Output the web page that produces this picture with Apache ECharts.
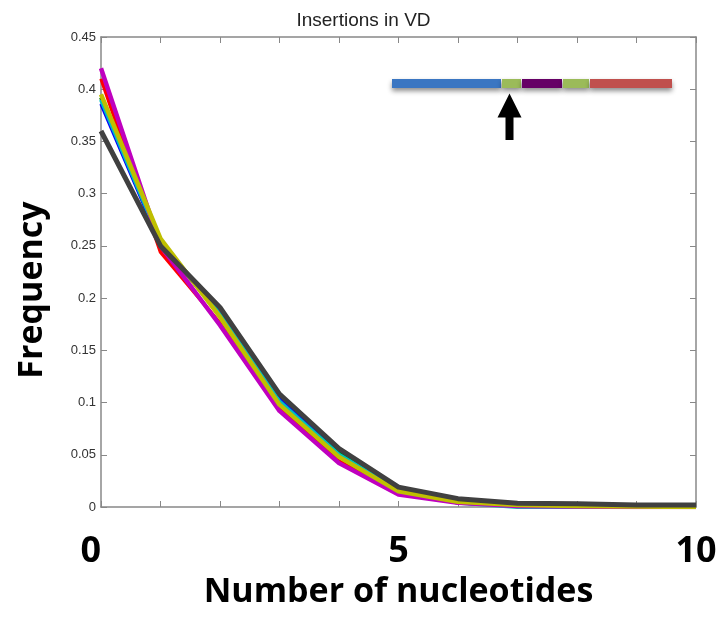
<!DOCTYPE html>
<html>
<head>
<meta charset="utf-8">
<script src="https://cdn.jsdelivr.net/npm/echarts@6/dist/echarts.min.js"></script>
<style>html,body{margin:0;padding:0;background:#fff}#c{width:727px;height:617px}</style>
</head>
<body>
<div id="c"></div>
<script>
var nucleotides = [0,1,2,3,4,5,6,7,8,9,10];
var xTickLabels = [0,5,10];
var redVals     = [0.410,0.244,0.176,0.094,0.044,0.013,0.004,0.001,0.0005,0,0];
var blueVals    = [0.386,0.252,0.185,0.103,0.052,0.017,0.004,0.001,0,0,0];
var greenVals   = [0.392,0.255,0.184,0.100,0.051,0.016,0.006,0.002,0.001,0.0005,0];
var cyanVals    = [0.390,0.254,0.186,0.101,0.050,0.016,0.004,0,0,0,0];
var magentaVals = [0.420,0.250,0.174,0.092,0.042,0.012,0.004,0.001,0.0005,0,0];
var yellowVals  = [0.395,0.257,0.182,0.098,0.048,0.015,0.005,0.002,0.001,0.0005,0];
var grayVals    = [0.360,0.250,0.191,0.108,0.056,0.019,0.008,0.0035,0.003,0.002,0.002];

var seriesDefs = [
  {name:'red', vals:redVals, color:'#ff0000', w:3.5},
  {name:'blue', vals:blueVals, color:'#0000ff', w:3.5},
  {name:'green', vals:greenVals, color:'#008000', w:4},
  {name:'cyan', vals:cyanVals, color:'#00bfbf', w:4},
  {name:'magenta', vals:magentaVals, color:'#bf00bf', w:4.5},
  {name:'yellow', vals:yellowVals, color:'#bfbf00', w:4.5},
  {name:'gray', vals:grayVals, color:'#404040', w:5}
];

var chart = echarts.init(document.getElementById('c'), null, {renderer:'canvas'});
var axisGray = '#888888';
var bigFont = 'Open Sans';

var series = seriesDefs.map(function(s){
  return {
    type:'line', name:s.name, xAxisIndex:0, yAxisIndex:0,
    data: nucleotides.map(function(x,i){return [x, s.vals[i]];}),
    symbol:'none', lineStyle:{color:s.color, width:s.w, join:'round'},
    itemStyle:{color:s.color}, z:2
  };
});

var option = {
  animation:false,
  backgroundColor:'#ffffff',
  title:{
    text:'Insertions in VD', left:'center', top:6,
    textStyle:{fontFamily:'Liberation Sans', fontSize:19, fontWeight:'normal', color:'#222'}
  },
  grid:{left:101, right:31, top:37, bottom:110, containLabel:false},
  xAxis:[
    {type:'value', min:0, max:10, interval:1, position:'bottom',
     name:'Number of nucleotides', nameLocation:'middle', nameGap:53,
     nameTextStyle:{fontFamily:bigFont, fontWeight:'bold', fontSize:34, color:'#000'},
     axisLine:{show:true, onZero:false, lineStyle:{color:axisGray, width:1.5}},
     axisTick:{show:true, inside:true, length:6, lineStyle:{color:axisGray}},
     splitLine:{show:false},
     axisLabel:{show:true, margin:27, fontFamily:bigFont, fontWeight:'bold', fontSize:36, color:'#000',
       alignMinLabel:'right',
       formatter:function(v){return xTickLabels.indexOf(v) >= 0 ? String(v) : '';}}},
    {type:'value', min:0, max:10, interval:1, position:'top',
     axisLine:{show:true, onZero:false, lineStyle:{color:axisGray, width:1.5}},
     axisTick:{show:true, inside:true, length:6, lineStyle:{color:axisGray}},
     splitLine:{show:false}, axisLabel:{show:false}}
  ],
  yAxis:[
    {type:'value', min:0, max:0.45, interval:0.05, position:'left',
     name:'Frequency', nameLocation:'middle', nameGap:52,
     nameTextStyle:{fontFamily:bigFont, fontWeight:'bold', fontSize:34, color:'#000', padding:[0,0,0,-36]},
     axisLine:{show:true, onZero:false, lineStyle:{color:axisGray, width:1.5}},
     axisTick:{show:true, inside:true, length:6, lineStyle:{color:axisGray}},
     splitLine:{show:false},
     axisLabel:{show:true, margin:5, fontFamily:'Liberation Sans', fontSize:13, color:'#333'}},
    {type:'value', min:0, max:0.45, interval:0.05, position:'right',
     axisLine:{show:true, onZero:false, lineStyle:{color:axisGray, width:1.5}},
     axisTick:{show:true, inside:true, length:6, lineStyle:{color:axisGray}},
     splitLine:{show:false}, axisLabel:{show:false}}
  ],
  series: series,
  graphic:[
    {type:'group', z:10, children:[
      {type:'rect', shape:{x:392, y:79, width:109, height:9}, style:{fill:'#3a76c2', shadowBlur:5, shadowOffsetY:3, shadowColor:'rgba(0,0,0,0.45)'}},
      {type:'rect', shape:{x:502, y:79, width:19, height:9}, style:{fill:'#9bbb59', shadowBlur:5, shadowOffsetY:3, shadowColor:'rgba(0,0,0,0.45)'}},
      {type:'rect', shape:{x:522, y:79, width:40, height:9}, style:{fill:'#660066', shadowBlur:5, shadowOffsetY:3, shadowColor:'rgba(0,0,0,0.45)'}},
      {type:'rect', shape:{x:563, y:79, width:26, height:9}, style:{fill:'#9bbb59', shadowBlur:5, shadowOffsetY:3, shadowColor:'rgba(0,0,0,0.45)'}},
      {type:'rect', shape:{x:590, y:79, width:82, height:9}, style:{fill:'#c0504d', shadowBlur:5, shadowOffsetY:3, shadowColor:'rgba(0,0,0,0.45)'}},
      {type:'polygon', shape:{points:[[509.5,93.5],[521.5,117.5],[513.5,117.5],[513.5,140],[505.5,140],[505.5,117.5],[497.5,117.5]]}, style:{fill:'#000'}}
    ]}
  ]
};
chart.setOption(option);
</script>
</body>
</html>
